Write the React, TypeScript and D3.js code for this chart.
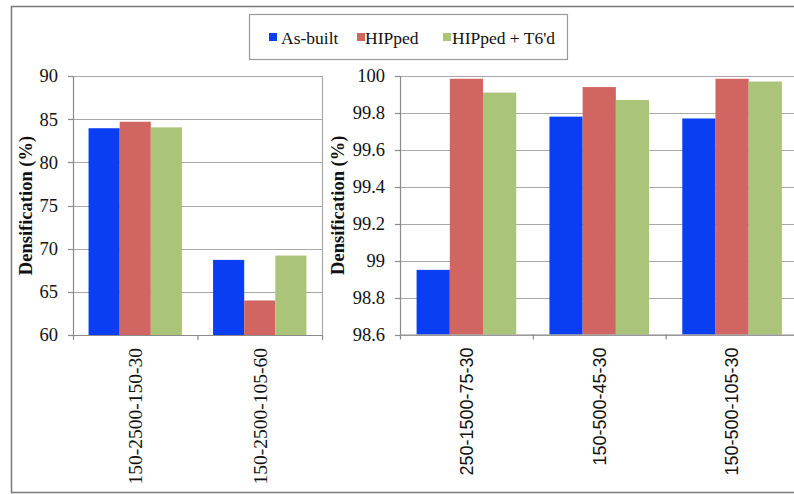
import React from "react";
import * as d3 from "d3";

const seriesNames = ["As-built", "HIPped", "HIPped + T6'd"];
const seriesColors = ["#0a3ef2", "#d06561", "#aac47a"];

const leftCategories = ["150-2500-150-30", "150-2500-105-60"];
const leftAsBuilt = [83.95, 68.7];
const leftHIPped = [84.7, 64.0];
const leftT6 = [84.05, 69.2];
const leftTicks = [60, 65, 70, 75, 80, 85, 90];

const rightCategories = ["250-1500-75-30", "150-500-45-30", "150-500-105-30"];
const rightAsBuilt = [98.95, 99.78, 99.77];
const rightHIPped = [99.985, 99.94, 99.985];
const rightT6 = [99.91, 99.87, 99.97];
const rightTicks = [98.6, 98.8, 99, 99.2, 99.4, 99.6, 99.8, 100];

const W = 794;
const H = 494;
const serif = "'Liberation Serif', 'Times New Roman', serif";
const sans = "'Liberation Sans', Arial, sans-serif";
const gridColor = "#a8a8a8";
const axisColor = "#8a8a8a";

type PanelProps = {
  categories: string[];
  values: number[][];
  ticks: number[];
  domain: [number, number];
  x0: number;
  x1: number;
  yTop: number;
  yBottom: number;
  labelX: number;
  tickFmt: (d: number) => string;
  catFont: string;
  catSize: number;
  rightBorder: boolean;
};

function Panel(p: PanelProps) {
  const x = d3.scaleBand<string>().domain(p.categories).range([p.x0, p.x1]).padding(0);
  const step = x.step();
  const xs = d3
    .scaleBand<string>()
    .domain(seriesNames)
    .range([step * 0.125, step * 0.875])
    .padding(0);
  const y = d3.scaleLinear().domain(p.domain).range([p.yBottom, p.yTop]);
  const boundaries = d3.range(p.categories.length + 1).map((i) => p.x0 + i * step);
  return (
    <g>
      {p.ticks.map((t) => (
        <line
          key={"g" + t}
          x1={p.x0}
          x2={p.x1}
          y1={Math.round(y(t)) + 0.5}
          y2={Math.round(y(t)) + 0.5}
          stroke={gridColor}
          strokeWidth={1.2}
        />
      ))}
      {p.rightBorder && (
        <line x1={p.x1 + 0.5} x2={p.x1 + 0.5} y1={p.yTop} y2={p.yBottom} stroke={gridColor} strokeWidth={1.2} />
      )}
      {p.categories.map((c, ci) =>
        seriesNames.map((s, si) => {
          const v = p.values[si][ci];
          const top = y(v);
          return (
            <rect
              key={c + s}
              x={(x(c) as number) + (xs(s) as number)}
              y={top}
              width={xs.bandwidth()}
              height={p.yBottom - top}
              fill={seriesColors[si]}
            />
          );
        })
      )}
      <line x1={p.x0 + 0.5} x2={p.x0 + 0.5} y1={p.yTop} y2={p.yBottom} stroke={axisColor} strokeWidth={1.2} />
      <line x1={p.x0} x2={p.x1} y1={p.yBottom + 0.5} y2={p.yBottom + 0.5} stroke={axisColor} strokeWidth={1.2} />
      {p.ticks.map((t) => (
        <g key={"t" + t}>
          <line
            x1={p.x0 - 5}
            x2={p.x0}
            y1={Math.round(y(t)) + 0.5}
            y2={Math.round(y(t)) + 0.5}
            stroke={axisColor}
            strokeWidth={1.2}
          />
          <text
            x={p.x0 - 15}
            y={y(t)}
            dy="0.35em"
            textAnchor="end"
            fontFamily={serif}
            fontSize={18.5}
            fill="#111"
          >
            {p.tickFmt(t)}
          </text>
        </g>
      ))}
      {boundaries.map((b, i) => (
        <line
          key={"b" + i}
          x1={b + 0.5}
          x2={b + 0.5}
          y1={p.yBottom}
          y2={p.yBottom + 5}
          stroke={axisColor}
          strokeWidth={1.2}
        />
      ))}
      {p.categories.map((c) => {
        const cx = (x(c) as number) + step / 2;
        return (
          <text
            key={"l" + c}
            transform={`translate(${cx},${p.yBottom + 13}) rotate(-90)`}
            dy="0.35em"
            textAnchor="end"
            fontFamily={p.catFont}
            fontSize={p.catSize}
            fill="#111"
          >
            {c}
          </text>
        );
      })}
      <text
        transform={`translate(${p.labelX},${(p.yTop + p.yBottom) / 2}) rotate(-90)`}
        textAnchor="middle"
        fontFamily={serif}
        fontWeight="bold"
        fontSize={18.5}
        fill="#111"
      >
        Densification (%)
      </text>
    </g>
  );
}

export default function App() {
  const legendItems = [
    { x: 269, tx: 281 },
    { x: 357, tx: 365 },
    { x: 443, tx: 452 },
  ];
  return (
    <svg
      width={W}
      height={H}
      style={{ position: "absolute", left: 0, top: 0, display: "block", background: "#fff" }}
    >
      <rect x={0} y={0} width={W} height={H} fill="#fff" />
      <path d={`M${W + 5},6.5 H11.5 V492.5 H${W + 5}`} fill="none" stroke="#7a7a7a" strokeWidth={1.5} />
      <Panel
        categories={leftCategories}
        values={[leftAsBuilt, leftHIPped, leftT6]}
        ticks={leftTicks}
        domain={[60, 90]}
        x0={73}
        x1={322}
        yTop={76}
        yBottom={335}
        labelX={32}
        tickFmt={(d) => String(d)}
        catFont={serif}
        catSize={19.5}
        rightBorder={true}
      />
      <Panel
        categories={rightCategories}
        values={[rightAsBuilt, rightHIPped, rightT6]}
        ticks={rightTicks}
        domain={[98.6, 100]}
        x0={400}
        x1={798.5}
        yTop={76}
        yBottom={334.5}
        labelX={344}
        tickFmt={(d) => String(+d.toFixed(1))}
        catFont={sans}
        catSize={18}
        rightBorder={false}
      />
      <rect x={249.5} y={14.5} width={318} height={45} fill="#fff" stroke="#999" strokeWidth={1.2} />
      {seriesNames.map((s, i) => (
        <g key={s}>
          <rect x={legendItems[i].x} y={33} width={8} height={8} fill={seriesColors[i]} />
          <text x={legendItems[i].tx} y={44} fontFamily={serif} fontSize={17.5} fill="#111">
            {s}
          </text>
        </g>
      ))}
    </svg>
  );
}
